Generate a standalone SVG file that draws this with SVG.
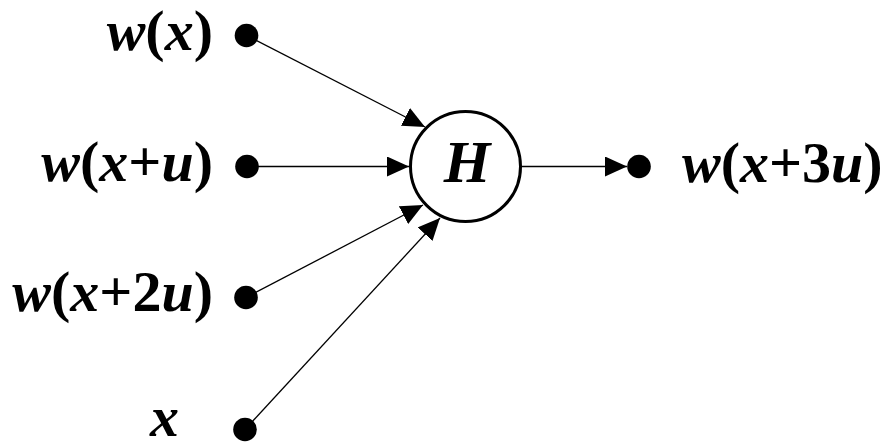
<svg xmlns="http://www.w3.org/2000/svg" width="893" height="442" viewBox="0 0 893 442">
<style>
.lbl{font-family:"Liberation Serif","Times New Roman",serif;font-weight:bold;font-size:58px;fill:#000}
.i{font-style:italic}
.dot{fill:#000}
.conn{stroke:#000;stroke-width:1.3;fill:none;marker-end:url(#ah)}
</style>
<defs>
<marker id="ah" markerUnits="userSpaceOnUse" markerWidth="22" markerHeight="20" refX="22" refY="10" orient="auto" viewBox="0 0 22 20">
<path d="M0,0 L22,10 L0,20 z" fill="#000"/>
</marker>
</defs>
<rect width="893" height="442" fill="#fff"/>
<g id="connectors">
<line class="conn" x1="246.5" y1="35.5" x2="425" y2="127"/>
<line class="conn" x1="247" y1="166.5" x2="409" y2="166.5"/>
<line class="conn" x1="246" y1="297.5" x2="423" y2="205"/>
<line class="conn" x1="245" y1="429.5" x2="440" y2="218"/>
<line class="conn" x1="521" y1="166.5" x2="627" y2="166.5" style="stroke-width:1.6"/>
</g>
<g id="n_wx">
<circle class="dot" cx="246.5" cy="35.5" r="11.8"/>
<text class="lbl" x="213" y="50" text-anchor="end"><tspan class="i">w</tspan>(<tspan class="i">x</tspan>)</text>
</g>
<g id="n_wxu">
<circle class="dot" cx="247" cy="166.5" r="11.8"/>
<text class="lbl" x="213" y="181" text-anchor="end"><tspan class="i">w</tspan>(<tspan class="i">x</tspan>+<tspan class="i">u</tspan>)</text>
</g>
<g id="n_wx2u">
<circle class="dot" cx="246" cy="297.5" r="11.8"/>
<text class="lbl" x="213" y="311" text-anchor="end"><tspan class="i">w</tspan>(<tspan class="i">x</tspan>+2<tspan class="i">u</tspan>)</text>
</g>
<g id="n_x">
<circle class="dot" cx="245" cy="429.5" r="11.8"/>
<text class="lbl i" x="150" y="436">x</text>
</g>
<g id="n_H">
<circle cx="465.5" cy="166.5" r="55" fill="#fff" stroke="#000" stroke-width="3"/>
<text class="lbl i" x="467" y="182" text-anchor="middle" style="font-size:60px">H</text>
</g>
<g id="n_out">
<circle class="dot" cx="639" cy="166.5" r="11.8"/>
<text class="lbl" x="682" y="182"><tspan class="i">w</tspan>(<tspan class="i">x</tspan>+3<tspan class="i">u</tspan>)</text>
</g>
</svg>
